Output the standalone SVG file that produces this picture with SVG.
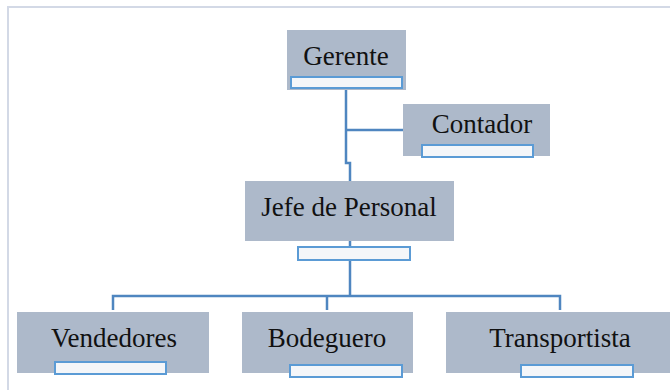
<svg xmlns="http://www.w3.org/2000/svg" width="670" height="390" viewBox="0 0 670 390">
<style>
.box{fill:#adb9ca;}
.bar{fill:#f4f6f9;stroke:#5b9bd5;stroke-width:2;}
.lbl{font-family:'Liberation Serif','Times New Roman','DejaVu Serif',serif;font-size:27px;fill:#111;text-anchor:middle;}
.con{fill:none;stroke:#4f86c0;stroke-width:2.5;}
.frame{fill:none;stroke:#d3d9e6;stroke-width:2;}
</style>
<rect width="670" height="390" fill="#ffffff"/>
<path class="frame" d="M8,390 V7 H670"/>
<g id="connectors">
<path class="con" d="M346,90 V163 H350 V181"/>
<path class="con" d="M346,130 H403"/>
<path class="con" d="M350,241 V296"/>
<path class="con" d="M113,310 V296 H560 V310"/>
<path class="con" d="M327,296 V310"/>
</g>
<g id="gerente">
<rect class="box" x="287" y="30" width="119" height="60"/>
<text class="lbl" x="346" y="65">Gerente</text>
<rect class="bar" x="291" y="77" width="111" height="11"/>
</g>
<g id="contador">
<rect class="box" x="403" y="104" width="147" height="52"/>
<text class="lbl" x="482" y="133">Contador</text>
<rect class="bar" x="422" y="145" width="111" height="12"/>
</g>
<g id="jefe">
<rect class="box" x="245" y="181" width="209" height="60"/>
<text class="lbl" x="349" y="216">Jefe de Personal</text>
<rect class="bar" x="298" y="247" width="112" height="13"/>
</g>
<g id="vendedores">
<rect class="box" x="17" y="312" width="192" height="61"/>
<text class="lbl" x="114" y="347">Vendedores</text>
<rect class="bar" x="55" y="362" width="111" height="12"/>
</g>
<g id="bodeguero">
<rect class="box" x="242" y="312" width="171" height="61"/>
<text class="lbl" x="327" y="347">Bodeguero</text>
<rect class="bar" x="290" y="365" width="112" height="12"/>
</g>
<g id="transportista">
<rect class="box" x="446" y="312" width="224" height="61"/>
<text class="lbl" x="560" y="347">Transportista</text>
<rect class="bar" x="521" y="365" width="112" height="12"/>
</g>
</svg>
